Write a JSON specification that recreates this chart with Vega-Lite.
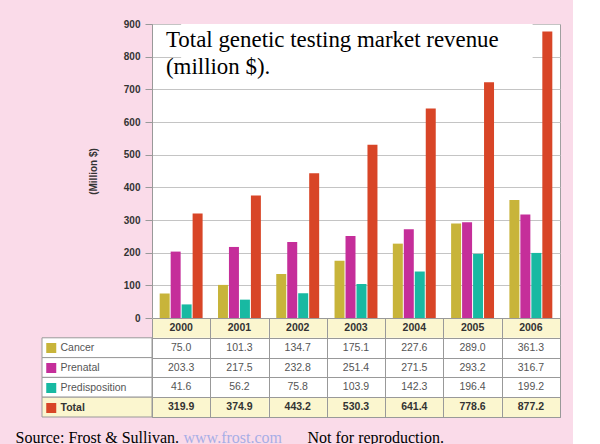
{
  "$schema": "https://vega.github.io/schema/vega-lite/v6.json",
  "background": "#fadbe9",
  "padding": {"left": 15, "top": 18, "right": 12, "bottom": 0},
  "datasets": {
    "revenue": [
      {"year": "2000", "series": "Cancer", "value": 75.0},
      {"year": "2000", "series": "Prenatal", "value": 203.3},
      {"year": "2000", "series": "Predisposition", "value": 41.6},
      {"year": "2000", "series": "Total", "value": 319.9},
      {"year": "2001", "series": "Cancer", "value": 101.3},
      {"year": "2001", "series": "Prenatal", "value": 217.5},
      {"year": "2001", "series": "Predisposition", "value": 56.2},
      {"year": "2001", "series": "Total", "value": 374.9},
      {"year": "2002", "series": "Cancer", "value": 134.7},
      {"year": "2002", "series": "Prenatal", "value": 232.8},
      {"year": "2002", "series": "Predisposition", "value": 75.8},
      {"year": "2002", "series": "Total", "value": 443.2},
      {"year": "2003", "series": "Cancer", "value": 175.1},
      {"year": "2003", "series": "Prenatal", "value": 251.4},
      {"year": "2003", "series": "Predisposition", "value": 103.9},
      {"year": "2003", "series": "Total", "value": 530.3},
      {"year": "2004", "series": "Cancer", "value": 227.6},
      {"year": "2004", "series": "Prenatal", "value": 271.5},
      {"year": "2004", "series": "Predisposition", "value": 142.3},
      {"year": "2004", "series": "Total", "value": 641.4},
      {"year": "2005", "series": "Cancer", "value": 289.0},
      {"year": "2005", "series": "Prenatal", "value": 293.2},
      {"year": "2005", "series": "Predisposition", "value": 196.4},
      {"year": "2005", "series": "Total", "value": 778.6},
      {"year": "2006", "series": "Cancer", "value": 361.3},
      {"year": "2006", "series": "Prenatal", "value": 316.7},
      {"year": "2006", "series": "Predisposition", "value": 199.2},
      {"year": "2006", "series": "Total", "value": 877.2}
    ]
  },
  "data": {"name": "revenue"},
  "columns": 2,
  "spacing": {"row": 0, "column": 0},
  "bounds": "flush",
  "concat": [
    {
      "data": {"values": []},
      "width": 110,
      "height": 294,
      "view": {"stroke": null, "fill": null},
      "mark": "point",
      "encoding": {}
    },
    {
      "width": 408,
      "height": 294,
      "view": {"stroke": "#a0a0a0", "fill": "white"},
      "resolve": {"axis": {"y": "independent"}},
      "layer": [
        {
          "mark": {"type": "bar"},
          "encoding": {
            "x": {"field": "year", "type": "nominal", "scale": {"paddingInner": 0, "paddingOuter": 0}, "axis": null},
            "xOffset": {"field": "series", "type": "nominal", "scale": {"domain": ["Cancer", "Prenatal", "Predisposition", "Total"], "paddingInner": 0.09, "paddingOuter": 0.7}},
            "y": {
              "field": "value", "type": "quantitative",
              "scale": {"domain": [0, 900], "nice": false},
              "axis": {
                "orient": "left",
                "title": "(Million $)", "titleFont": "Liberation Sans", "titleFontSize": 10, "titleFontWeight": "bold", "titleColor": "#333", "titlePadding": 25,
                "labelFont": "Liberation Sans", "labelFontSize": 10, "labelFontWeight": "bold", "labelColor": "#333", "labelPadding": 5,
                "labelOverlap": false, "labelFlush": false, "tickCount": 12,
                "tickSize": 7, "tickColor": "#999", "domainColor": "#999", "gridColor": "#c4c4c4",
                "values": [0, 100, 200, 300, 400, 500, 600, 700, 800, 900]
              }
            },
            "color": {
              "field": "series", "type": "nominal",
              "scale": {"domain": ["Cancer", "Prenatal", "Predisposition", "Total"], "range": ["#c8b43a", "#c52e9a", "#18b9a2", "#d84527"]},
              "legend": {
                "orient": "none", "legendX": 4, "legendY": 314, "title": null, "padding": 0,
                "symbolType": "square", "symbolSize": 100, "symbolStrokeWidth": 0,
                "labelFont": "Liberation Sans", "labelFontSize": 10.5, "labelColor": "#555", "labelOffset": 4,
                "rowPadding": 0, "clipHeight": 20,
                "encode": {"labels": {"update": {
                  "fontWeight": {"signal": "datum.label === 'Total' ? 'bold' : 'normal'"},
                  "fill": {"signal": "datum.label === 'Total' ? '#333' : '#555'"}
                }}}
              }
            }
          }
        },
        {
          "data": {"values": [{"note": "Total genetic testing market revenue\n(million $)."}]},
          "mark": {"type": "rect", "fill": "white"},
          "encoding": {
            "x": {"datum": "2000", "axis": null},
            "x2": {"datum": "2006", "bandPosition": 0.53},
            "y": {"datum": 900, "type": "quantitative", "axis": null},
            "y2": {"datum": 722}
          }
        },
        {
          "data": {"values": [{"note": "Total genetic testing market revenue\n(million $)."}]},
          "mark": {"type": "text", "align": "left", "baseline": "alphabetic", "font": "Liberation Serif", "fontSize": 22.9, "lineBreak": "\n", "lineHeight": 27, "color": "black"},
          "encoding": {
            "x": {"datum": "2000", "bandPosition": 0.24, "axis": null},
            "y": {"datum": 830, "type": "quantitative", "axis": null},
            "text": {"field": "note"}
          }
        }
      ]
    },
    {
      "width": 110,
      "height": 99,
      "view": {"stroke": null, "fill": null},
      "transform": [{"filter": "datum.year === '2000'"}],
      "mark": {"type": "rect", "stroke": "#999", "strokeWidth": 1},
      "encoding": {
        "y": {
          "field": "series", "type": "nominal",
          "scale": {"domain": ["Year", "Cancer", "Prenatal", "Predisposition", "Total"], "paddingInner": 0, "paddingOuter": 0},
          "axis": {
            "labels": false, "ticks": false, "domain": false, "grid": false,
            "title": "Source: Frost & Sullivan.", "titleFont": "Liberation Serif", "titleFontSize": 16, "titleFontWeight": "normal", "titleColor": "black",
            "titleAngle": 0, "titleAlign": "left", "titleBaseline": "alphabetic", "titleX": -27, "titleY": 124
          }
        },
        "fill": {"condition": {"test": "datum.series === 'Total'", "value": "#fbf6cf"}, "value": "white"}
      }
    },
    {
      "width": 408,
      "height": 99,
      "view": {"stroke": "#999", "fill": "white"},
      "encoding": {
        "x": {
          "field": "year", "type": "nominal", "scale": {"paddingInner": 0, "paddingOuter": 0},
          "axis": {
            "orient": "bottom", "labels": false, "ticks": false, "domain": false, "grid": true, "tickBand": "extent", "gridColor": "#999", "zindex": 1,
            "title": "www.frost.com", "titleColor": "#a8aee6", "titleFont": "Liberation Serif", "titleFontSize": 16, "titleFontWeight": "normal",
            "titleAlign": "left", "titleBaseline": "alphabetic", "titleAngle": 0, "titleX": 31, "titleY": 25
          }
        },
        "y": {
          "field": "series", "type": "nominal",
          "scale": {"domain": ["Year", "Cancer", "Prenatal", "Predisposition", "Total"], "paddingInner": 0, "paddingOuter": 0},
          "axis": {
            "labels": false, "ticks": false, "domain": false, "grid": true, "tickBand": "extent", "gridColor": "#999", "zindex": 1,
            "title": "Not for reproduction.", "titleColor": "black", "titleFont": "Liberation Serif", "titleFontSize": 16, "titleFontWeight": "normal",
            "titleAlign": "left", "titleBaseline": "alphabetic", "titleAngle": 0, "titleX": 155, "titleY": 124
          }
        }
      },
      "layer": [
        {
          "transform": [{"filter": "datum.series === 'Cancer'"}],
          "mark": {"type": "rect", "fill": "#fbf6cf"},
          "encoding": {"y": {"datum": "Year"}}
        },
        {
          "transform": [{"filter": "datum.series === 'Total'"}],
          "mark": {"type": "rect", "fill": "#fbf6cf"}
        },
        {
          "transform": [{"filter": "datum.series !== 'Total'"}],
          "mark": {"type": "text", "fontSize": 10.5, "color": "#555"},
          "encoding": {"text": {"field": "value", "type": "quantitative", "format": ".1f"}}
        },
        {
          "transform": [{"filter": "datum.series === 'Total'"}],
          "mark": {"type": "text", "fontSize": 10.5, "fontWeight": "bold", "color": "#333"},
          "encoding": {"text": {"field": "value", "type": "quantitative", "format": ".1f"}}
        },
        {
          "transform": [{"filter": "datum.series === 'Cancer'"}],
          "mark": {"type": "text", "fontSize": 10.5, "fontWeight": "bold", "color": "#333"},
          "encoding": {"y": {"datum": "Year"}, "text": {"field": "year", "type": "nominal"}}
        }
      ]
    }
  ],
  "config": {
    "font": "Liberation Sans",
    "axisQuantitative": {"tickCount": 12}
  }
}
